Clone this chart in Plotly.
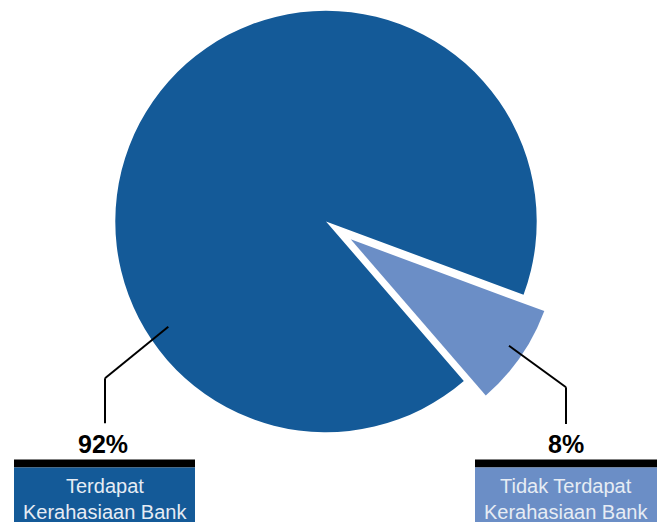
import plotly.graph_objects as go

# Share of respondents by bank-secrecy status
categories = ["Tidak Terdapat Kerahasiaan Bank", "Terdapat Kerahasiaan Bank"]
values = [8, 92]
box_lines = [["Tidak Terdapat", "Kerahasiaan Bank"], ["Terdapat", "Kerahasiaan Bank"]]

DARK = "#145a98"
LIGHT = "#6b8ec6"
CLEAR = "rgba(0,0,0,0)"

W, H = 663, 522


def px(x):
    return x / W


def py(y):
    return 1 - y / H


def domain(cx, cy, r):
    return dict(x=[px(cx - r), px(cx + r)], y=[py(cy + r), py(cy - r)])


common = dict(
    labels=categories,
    values=values,
    sort=False,
    direction="clockwise",
    rotation=110.35,
    textinfo="none",
    hoverinfo="label+percent",
    showlegend=False,
)

fig = go.Figure()
# main body of the pie (large share), the small share left empty
fig.add_trace(go.Pie(
    marker=dict(colors=[CLEAR, DARK], line=dict(width=0)),
    domain=domain(326, 221.5, 210.7),
    **common,
))
# small share, drawn separately and shifted outward
fig.add_trace(go.Pie(
    marker=dict(colors=[LIGHT, CLEAR], line=dict(width=0)),
    domain=domain(350.7, 239.3, 206.5),
    **common,
))

shapes = []
annotations = []


def line(x0, y0, x1, y1):
    shapes.append(dict(type="line", xref="paper", yref="paper",
                       x0=px(x0), y0=py(y0), x1=px(x1), y1=py(y1),
                       line=dict(color="black", width=2)))


def rect(x0, y0, x1, y1, color):
    shapes.append(dict(type="rect", xref="paper", yref="paper",
                       x0=px(x0), y0=py(y1), x1=px(x1), y1=py(y0),
                       fillcolor=color, line=dict(width=0), layer="above"))


def text(x, y, s, size, color, bold=False, family="Liberation Sans, Arial, sans-serif"):
    annotations.append(dict(xref="paper", yref="paper", x=px(x), y=py(y),
                            text=f"<b>{s}</b>" if bold else s, showarrow=False,
                            xanchor="center", yanchor="middle",
                            font=dict(size=size, color=color, family=family)))


# leader lines
line(168.3, 326.7, 105, 378.3)
line(105, 378.3, 105, 423.3)
line(509, 345.7, 566, 387.3)
line(566, 387.3, 566, 424)

# label blocks: (left edge, right edge, fill, value index)
blocks = [(14, 195, DARK, 1), (475, 657, LIGHT, 0)]
for x0, x1, fill, i in blocks:
    rect(x0, 459.5, x1, 467.5, "black")
    rect(x0, 467.5, x1, 522, fill)
    cx = (x0 + x1) / 2
    text(cx, 443.5, f"{values[i]}%", 25, "black", bold=True,
         family="Liberation Sans Narrow, Arial Narrow, Liberation Sans, sans-serif")
    text(cx, 486.4, box_lines[i][0], 20, "#e6ecf4")
    text(cx, 512.4, box_lines[i][1], 20, "#e6ecf4")

# the percentage labels sit just under the leader lines
annotations[0]["x"] = px(103)
annotations[3]["x"] = px(566)

fig.update_layout(
    width=W, height=H, autosize=False,
    margin=dict(l=0, r=0, t=0, b=0),
    paper_bgcolor="white", plot_bgcolor="white",
    shapes=shapes, annotations=annotations,
)

fig.write_html("out.html", config={"displayModeBar": False})
